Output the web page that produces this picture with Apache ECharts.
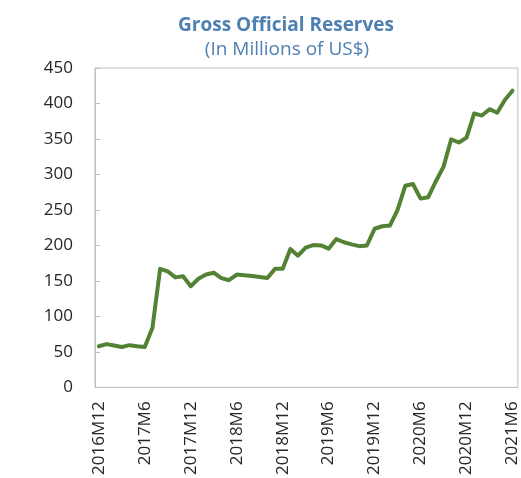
<!DOCTYPE html>
<html>
<head>
<meta charset="utf-8">
<script src="https://cdn.jsdelivr.net/npm/echarts@6/dist/echarts.min.js"></script>
<style>
  html, body { margin: 0; padding: 0; background: #ffffff; }
  #chart { width: 521px; height: 478px; }
</style>
</head>
<body>
<div id="chart"></div>
<script>
// Monthly periods, 2016M12 .. 2021M6
const months = [
  '2016M12',
  '2017M1','2017M2','2017M3','2017M4','2017M5','2017M6','2017M7','2017M8','2017M9','2017M10','2017M11','2017M12',
  '2018M1','2018M2','2018M3','2018M4','2018M5','2018M6','2018M7','2018M8','2018M9','2018M10','2018M11','2018M12',
  '2019M1','2019M2','2019M3','2019M4','2019M5','2019M6','2019M7','2019M8','2019M9','2019M10','2019M11','2019M12',
  '2020M1','2020M2','2020M3','2020M4','2020M5','2020M6','2020M7','2020M8','2020M9','2020M10','2020M11','2020M12',
  '2021M1','2021M2','2021M3','2021M4','2021M5','2021M6'
];

// Gross official reserves, millions of US$
const reserves = [
  58,
  61, 59, 57, 59.5, 58, 57, 84, 167, 163.5, 155, 156.5, 142.5,
  153, 159, 161.5, 154, 151, 159, 158, 157, 155.5, 154, 167, 167,
  195, 185.5, 197, 200.5, 200, 195.5, 209, 204.5, 201.5, 199, 200, 223.5,
  227, 228, 250, 284, 286.5, 266, 268, 290.5, 311, 349.5, 345, 352,
  386, 383, 392, 387, 405, 418
];

// Value-axis ticks: every sixth month gets a label
const tickIndexes = [0, 6, 12, 18, 24, 30, 36, 42, 48, 54];
const yTicks = { min: 0, max: 450, step: 50 };

const seriesData = reserves.map((v, i) => [i, v]);

const FONT = '"Open Sans", "Noto Sans", sans-serif';
const AXIS_GREY = '#bfbfbf';
const TITLE_BLUE = '#4e80b2';

const chart = echarts.init(document.getElementById('chart'), null, { renderer: 'canvas' });

chart.setOption({
  animation: false,
  backgroundColor: '#ffffff',
  title: [
    {
      text: 'Gross Official Reserves',
      left: 281,
      top: 11,
      textAlign: 'center',
      textStyle: { color: TITLE_BLUE, fontFamily: FONT, fontWeight: 'bold', fontSize: 19 }
    },
    {
      text: '(In Millions of US$)',
      left: 282,
      top: 35,
      textAlign: 'center',
      textStyle: { color: TITLE_BLUE, fontFamily: FONT, fontWeight: 'normal', fontSize: 19 }
    }
  ],
  grid: {
    left: 95,
    right: -2,
    top: 68,
    bottom: 89,
    show: true,
    borderColor: AXIS_GREY,
    borderWidth: 1,
    containLabel: false
  },
  xAxis: {
    type: 'value',
    min: -0.5,
    max: 54.7,
    axisLine: { show: true, onZero: false, lineStyle: { color: AXIS_GREY, width: 1 } },
    axisTick: { show: false },
    splitLine: { show: false },
    axisLabel: {
      customValues: tickIndexes,
      rotate: 90,
      margin: 14,
      color: '#262626',
      fontFamily: FONT,
      fontSize: 17,
      formatter: (v) => months[Math.round(v)] || ''
    }
  },
  yAxis: {
    type: 'value',
    min: yTicks.min,
    max: yTicks.max,
    interval: yTicks.step,
    axisLine: { show: true, onZero: false, lineStyle: { color: AXIS_GREY, width: 1 } },
    axisTick: { show: true, inside: true, length: 5, lineStyle: { color: AXIS_GREY } },
    splitLine: { show: false },
    axisLabel: {
      margin: 22,
      color: '#262626',
      fontFamily: FONT,
      fontSize: 17
    }
  },
  series: [
    {
      type: 'line',
      data: seriesData,
      showSymbol: false,
      lineStyle: { color: '#548235', width: 4, cap: 'round', join: 'round' },
      itemStyle: { color: '#548235' },
      clip: true
    }
  ]
});
</script>
</body>
</html>
